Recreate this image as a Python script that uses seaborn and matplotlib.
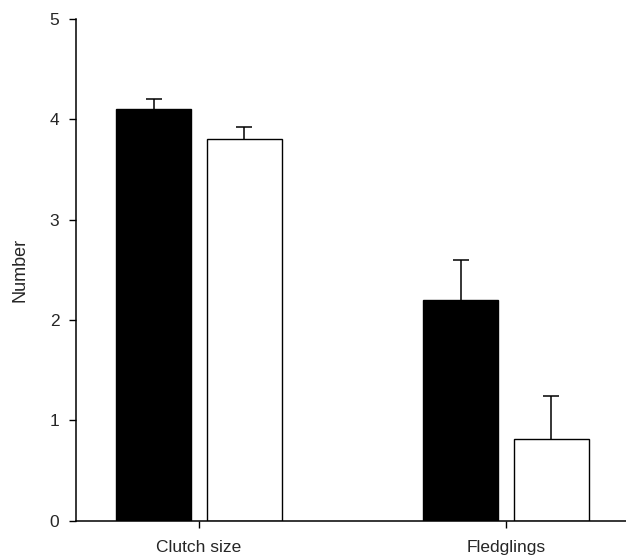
import matplotlib
matplotlib.use('Agg')
import numpy as np
import pandas as pd
import matplotlib.pyplot as plt
import seaborn as sns

# data
categories = ['Clutch size', 'Fledglings']
groups = ['A', 'B']
means_a = [4.10, 2.20]
means_b = [3.80, 0.81]
upper_a = [0.10, 0.40]
upper_b = [0.12, 0.43]

df = pd.DataFrame({
    'category': categories * 2,
    'group': [groups[0]] * 2 + [groups[1]] * 2,
    'value': means_a + means_b,
})
errs = upper_a + upper_b

sns.set_style('ticks')
plt.rcParams['font.family'] = ['Liberation Sans', 'DejaVu Sans']

fig = plt.figure(figsize=(6.26, 5.58), dpi=100)
ax = fig.add_axes([0.1214, 0.0668, 0.8786, 0.8997])

sns.barplot(data=df, x='category', y='value', hue='group', order=categories,
            hue_order=groups, palette=['black', 'white'], width=0.592, gap=0.17,
            edgecolor='black', linewidth=1.0, legend=False, ax=ax, errorbar=None)

# upper-only error bars: hide the lower cap
for p, e in zip(ax.patches, errs):
    x = p.get_x() + p.get_width() / 2
    h = p.get_height()
    _, caps, _ = ax.errorbar(x, h, yerr=[[0], [e]], fmt='none', ecolor='black',
                             elinewidth=1.1, capsize=5.5, capthick=1.1)
    caps[0].set_visible(False)

ax.set_ylim(0, 5)
ax.set_yticks([0, 1, 2, 3, 4, 5])
ax.set_xlim(-0.4007, 1.391)
ax.set_xlabel('')
ax.set_ylabel('Number', fontsize=13, labelpad=15)
ax.tick_params(axis='both', labelsize=12.5, width=1.0, length=5, color='black')
ax.tick_params(axis='y', pad=7)
ax.tick_params(axis='x', pad=9)
for s in ['left', 'bottom']:
    ax.spines[s].set_linewidth(1.1)
    ax.spines[s].set_color('black')
sns.despine(ax=ax)

plt.savefig('out.png', dpi=100)
